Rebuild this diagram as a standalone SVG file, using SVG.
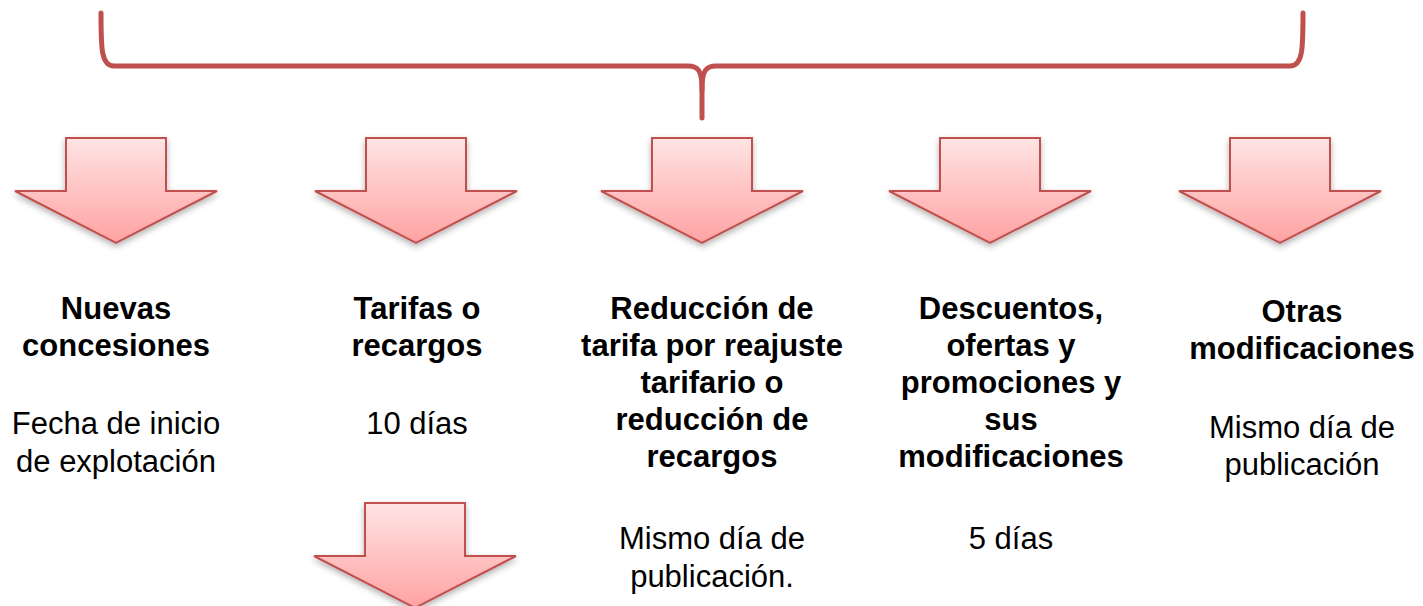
<svg xmlns="http://www.w3.org/2000/svg" width="1423" height="606" viewBox="0 0 1423 606">
  <style>
    .arrow { fill: url(#ag); stroke: #C0504D; stroke-width: 2; stroke-linejoin: miter; filter: url(#sh); }
    .brace { fill: none; stroke: #C0504D; stroke-width: 5; stroke-linecap: round; stroke-linejoin: round; }
    .t { font-family: "Liberation Sans", Arial, sans-serif; font-size: 31px; fill: #000; text-anchor: middle; }
    .b { font-weight: bold; }
  </style>
  <defs>
    <linearGradient id="ag" x1="0" y1="0" x2="0" y2="1">
      <stop offset="0" stop-color="#FFE4E4"/>
      <stop offset="1" stop-color="#FFA2A2"/>
    </linearGradient>
    <filter id="sh" x="-20%" y="-20%" width="140%" height="150%">
      <feDropShadow dx="0" dy="3" stdDeviation="3" flood-color="#000" flood-opacity="0.3"/>
    </filter>
  </defs>
  <rect width="1423" height="606" fill="#FFFFFF"/>

  <g id="connectors">
    <path class="brace" d="M101,13 C101,48 101,66 114,66 L688,66 C698,66 702,70 702,90 L702,118"/>
    <path class="brace" d="M1303,13 C1303,48 1303,66 1290,66 L716,66 C706,66 702,70 702,90"/>
  </g>

  <g id="node1">
    <path class="arrow" d="M66,138 L166,138 L166,191 L217,191 L116,243 L15,191 L66,191 Z"/>
    <text class="t b" x="116" y="319">Nuevas</text>
    <text class="t b" x="116" y="356">concesiones</text>
    <text class="t" x="116" y="434">Fecha de inicio</text>
    <text class="t" x="116" y="472">de explotación</text>
  </g>

  <g id="node2">
    <path class="arrow" d="M366,138 L466,138 L466,191 L517,191 L416,243 L315,191 L366,191 Z"/>
    <text class="t b" x="417" y="319">Tarifas o</text>
    <text class="t b" x="417" y="356">recargos</text>
    <text class="t" x="417" y="434">10 días</text>
  </g>

  <g id="node3">
    <path class="arrow" d="M652,138 L752,138 L752,191 L803,191 L702,243 L601,191 L652,191 Z"/>
    <text class="t b" x="712" y="319">Reducción de</text>
    <text class="t b" x="712" y="356">tarifa por reajuste</text>
    <text class="t b" x="712" y="393">tarifario o</text>
    <text class="t b" x="712" y="430">reducción de</text>
    <text class="t b" x="712" y="467">recargos</text>
    <text class="t" x="712" y="549">Mismo día de</text>
    <text class="t" x="712" y="587">publicación.</text>
  </g>

  <g id="node4">
    <path class="arrow" d="M940,138 L1040,138 L1040,191 L1091,191 L990,243 L889,191 L940,191 Z"/>
    <text class="t b" x="1011" y="319">Descuentos,</text>
    <text class="t b" x="1011" y="356">ofertas y</text>
    <text class="t b" x="1011" y="393">promociones y</text>
    <text class="t b" x="1011" y="430">sus</text>
    <text class="t b" x="1011" y="467">modificaciones</text>
    <text class="t" x="1011" y="549">5 días</text>
  </g>

  <g id="node5">
    <path class="arrow" d="M1230,138 L1330,138 L1330,191 L1381,191 L1280,243 L1179,191 L1230,191 Z"/>
    <text class="t b" x="1302" y="322">Otras</text>
    <text class="t b" x="1302" y="359">modificaciones</text>
    <text class="t" x="1302" y="438">Mismo día de</text>
    <text class="t" x="1302" y="475">publicación</text>
  </g>

  <g id="node6">
    <path class="arrow" d="M365,503 L465,503 L465,556 L516,556 L415,608 L314,556 L365,556 Z"/>
  </g>
</svg>
